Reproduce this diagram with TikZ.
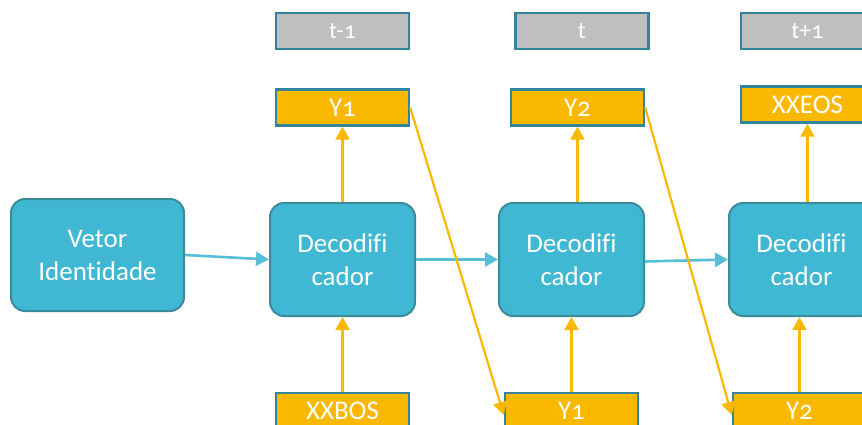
\documentclass[tikz,border=0pt]{standalone}
\usepackage{fontspec}
\setmainfont{Carlito}[Numbers=OldStyle, Ligatures=NoCommon]
\usetikzlibrary{arrows.meta}
\definecolor{tealfill}{HTML}{41B8D3}
\definecolor{tealline}{HTML}{3A8B9C}
\definecolor{boxline}{HTML}{31849B}
\definecolor{amber}{HTML}{FAB800}
\definecolor{greybox}{HTML}{BFBFBF}
\definecolor{flowblue}{HTML}{56BED6}
\tikzset{
  x=1pt, y=-1pt,
  block/.style={draw=tealline, line width=2pt, fill=tealfill, rounded corners=14pt,
    text=white, align=center, font=\fontsize{27}{33}\selectfont, inner sep=0pt},
  timebox/.style={draw=boxline, line width=2.4pt, fill=greybox, text=white,
    minimum width=133pt, minimum height=36pt, inner sep=0pt, font=\fontsize{24}{26}\selectfont},
  tokbox/.style={draw=boxline, line width=2.4pt, fill=amber, text=white,
    minimum width=133pt, minimum height=36pt, inner sep=0pt, font=\fontsize{27}{29}\selectfont},
  flow/.style={draw=flowblue, line width=2.6pt, -{Triangle[length=13pt,width=14pt]}},
  feed/.style={draw=amber, line width=2.2pt, -{Triangle[length=13pt,width=14pt]}},
}
\begin{document}
\begin{tikzpicture}
\useasboundingbox (0,0) rectangle (862,425);
\clip (0,0) rectangle (862,425);

% time-step labels
\node[timebox] (tprev) at (342.5,31) {t-1};
\node[timebox] (tcur)  at (582,31)   {t};
\node[timebox] (tnext) at (807.5,31) {t+1};

% outputs of each step
\node[tokbox] (out1) at (342.5,107.5) {Y1};
\node[tokbox] (out2) at (577.5,107.5) {Y2};
\node[tokbox] (out3) at (807.5,104.5) {XXEOS};

% encoder vector and decoder cells
\node[block, minimum width=173pt, minimum height=112pt] (vec) at (97.5,255) {Vetor\\Identidade};
\node[block, minimum width=145pt, minimum height=113pt] (dec1) at (342.5,259.5) {Decodifi\\cador};
\node[block, minimum width=145pt, minimum height=113pt] (dec2) at (571.5,259.5) {Decodifi\\cador};
\node[block, minimum width=145pt, minimum height=113pt] (dec3) at (801.5,259.5) {Decodifi\\cador};

% inputs of each step
\node[tokbox] (in1) at (342.5,411) {XXBOS};
\node[tokbox] (in2) at (571.5,411) {Y1};
\node[tokbox] (in3) at (799.5,411) {Y2};

% hidden state flow
\draw[flow] (vec.east) -- (dec1.west);
\draw[flow] (dec1.east) -- (dec2.west);
\draw[flow] ([yshift=-2pt]dec2.east) -- (dec3.west);

% decoder outputs
\draw[feed] (dec1.north -| out1.south) -- (out1.south);
\draw[feed] (dec2.north -| out2.south) -- (out2.south);
\draw[feed] (dec3.north -| out3.south) -- (out3.south);

% decoder inputs
\draw[feed] (in1.north) -- (in1.north |- dec1.south);
\draw[feed] (in2.north) -- (in2.north |- dec2.south);
\draw[feed] (in3.north) -- (in3.north |- dec3.south);

% previous output fed back as next input
\draw[feed] (out1.east) -- ([yshift=-4pt]in2.west);
\draw[feed] (out2.east) -- ([yshift=-4pt]in3.west);
\end{tikzpicture}
\end{document}
